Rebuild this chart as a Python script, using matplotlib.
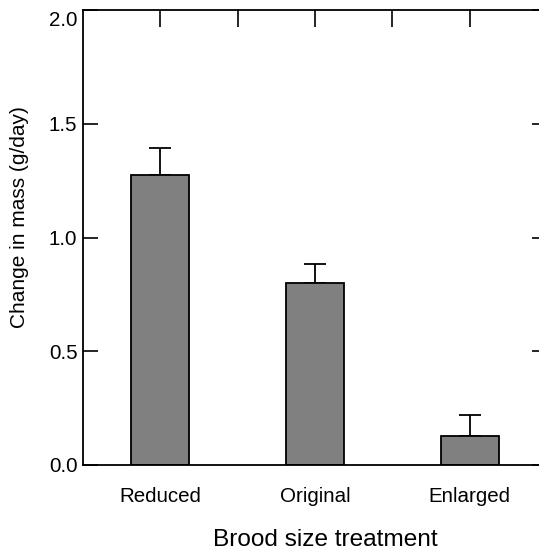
import matplotlib
matplotlib.use('Agg')
import matplotlib.pyplot as plt
import matplotlib.transforms as mtransforms

# bar data
treatments = ['Reduced', 'Original', 'Enlarged']
mass_change = [1.275, 0.80, 0.127]
mass_err = [0.12, 0.085, 0.093]
y_ticks = [0.0, 0.5, 1.0, 1.5, 2.0]
y_tick_labels = ['0.0', '0.5', '1.0', '1.5', '2.0']

BAR_COLOR = '#808080'
ACCENT_COLOR = 'black'

plt.rcParams['font.family'] = ['Liberation Sans', 'DejaVu Sans']

fig = plt.figure(figsize=(5.39, 5.51), dpi=100)
ax = fig.add_axes([83 / 539, 86 / 551, 464 / 539, 455 / 551])

x = list(range(len(treatments)))
ax.bar(x, mass_change, width=0.375, color=BAR_COLOR, edgecolor=ACCENT_COLOR,
       linewidth=1.3, zorder=2)
ax.errorbar(x, mass_change, yerr=[[0] * len(mass_err), mass_err], fmt='none',
            ecolor=ACCENT_COLOR, elinewidth=1.3, capsize=8, capthick=1.3, zorder=1)

ax.set_xlim(-0.5, 2.5)
ax.set_ylim(0, 2.0)

# y axis: inward ticks on both sides
ax.set_yticks(y_ticks)
ax.set_yticklabels(y_tick_labels)
ax.tick_params(axis='y', direction='in', length=11, width=1.2, labelsize=14.8,
               pad=4, right=True, colors=ACCENT_COLOR)

# the top label sits a bit below the top edge in the original
top_label = ax.get_yticklabels()[-1]
top_label.set_transform(top_label.get_transform() +
                        mtransforms.ScaledTranslation(0, -8 / 100, fig.dpi_scale_trans))

# x axis: labels at the bottom, ticks only along the top
ax.set_xticks(x)
ax.set_xticklabels(treatments)
ax.tick_params(axis='x', which='major', bottom=False, labelsize=14.8, pad=12.5)
top = ax.secondary_xaxis('top')
top.set_xticks([0, 0.5, 1, 1.5, 2])
top.tick_params(direction='in', length=12.5, width=1.2, labeltop=False)
top.spines['top'].set_visible(False)

for side in ['left', 'bottom', 'top', 'right']:
    ax.spines[side].set_linewidth(1.3)
    ax.spines[side].set_color(ACCENT_COLOR)

ax.set_xlabel('Brood size treatment', fontsize=17.6)
ax.xaxis.set_label_coords((325 - 83) / 464, (465 - 540) / 455)
ax.xaxis.label.set_va('center')
ax.set_ylabel('Change in mass (g/day)', fontsize=15)
ax.yaxis.set_label_coords((20 - 83) / 464, (465 - 217) / 455)
ax.yaxis.label.set_va('center')

plt.savefig('out.png', dpi=100)
